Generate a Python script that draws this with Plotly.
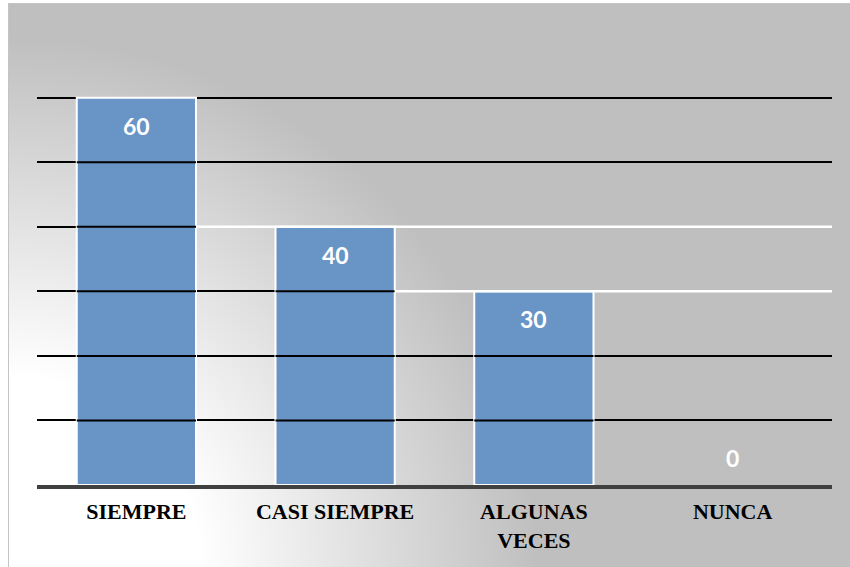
import base64
import plotly.graph_objects as go

# ---- data ----
categories = ["SIEMPRE", "CASI SIEMPRE", "ALGUNAS<br>VECES", "NUNCA"]
values = [60, 40, 30, 0]
grid_values = [10, 20, 30, 40, 50, 60]

# ---- layout geometry ----
W, H = 850, 567
ML, MR, MT, MB = 37, 18, 46, 82
Y_MAX = 68
BAR_W = 0.6
BAR_COLOR = "#6994c6"

pw = W - ML - MR
ph = H - MT - MB

fig = go.Figure()
fig.add_trace(go.Bar(
    x=list(range(len(categories))), y=values, width=BAR_W,
    marker=dict(color=BAR_COLOR,
                line=dict(color="white", width=[2 if v > 0 else 0 for v in values])),
    hoverinfo="skip", showlegend=False,
))

# value labels
for i, v in enumerate(values):
    fig.add_annotation(
        x=i, y=v, text=str(v), showarrow=False, xref="x", yref="y",
        yanchor="middle", yshift=(-28 if v > 0 else 27),
        font=dict(family="Lato", size=23, color="white", weight="bold"),
    )

shapes = []
# black gridline segments drawn over bars taller than the gridline
for g in grid_values:
    for i, v in enumerate(values):
        if v > g:
            shapes.append(dict(type="line", xref="x", yref="y", layer="above",
                               x0=i - BAR_W / 2, x1=i + BAR_W / 2, y0=g, y1=g,
                               line=dict(color="black", width=2)))
# white gridline segments (rendering artefact of the original)
for i, v in enumerate(values):
    if i > 0 and v in grid_values:
        shapes.append(dict(type="line", xref="x", yref="y", layer="above",
                           x0=i - 1 + BAR_W / 2, x1=len(values) - 0.5, y0=v, y1=v,
                           line=dict(color="white", width=2.5)))

# background gradient as an SVG image covering the chart frame
BX0, BY0 = 8, 3
bw, bh = W - BX0, H - BY0
svg = f'''<svg xmlns="http://www.w3.org/2000/svg" width="{bw}" height="{bh}" viewBox="0 0 {bw} {bh}" preserveAspectRatio="none">
<defs><radialGradient id="g" gradientUnits="userSpaceOnUse" cx="0" cy="{bh}" r="530">
<stop offset="0.36" stop-color="#ffffff"/><stop offset="1" stop-color="#bfbfbf"/></radialGradient></defs>
<rect x="0.5" y="0.5" width="{bw}" height="{bh}" fill="url(#g)" stroke="#c4c4c4" stroke-width="1"/>
</svg>'''
src = "data:image/svg+xml;base64," + base64.b64encode(svg.encode()).decode()

fig.add_layout_image(dict(
    source=src, xref="paper", yref="paper",
    x=(BX0 - ML) / pw, y=1 + (MT - BY0) / ph,
    sizex=bw / pw, sizey=bh / ph,
    xanchor="left", yanchor="top", sizing="stretch", layer="below",
))

fig.update_layout(
    width=W, height=H,
    margin=dict(l=ML, r=MR, t=MT, b=MB, pad=0),
    paper_bgcolor="white", plot_bgcolor="rgba(0,0,0,0)",
    shapes=shapes, bargap=0.4,
)
fig.update_xaxes(
    tickmode="array", tickvals=list(range(len(categories))), ticktext=categories,
    range=[-0.5, len(categories) - 0.5],
    showline=True, linecolor="#404040", linewidth=4, ticks="",
    showgrid=False, zeroline=False, ticklabelstandoff=4,
    tickfont=dict(family="Liberation Serif", size=22, color="black", weight="bold"),
)
fig.update_yaxes(
    range=[0, Y_MAX], tickmode="array", tickvals=grid_values,
    showgrid=True, gridcolor="black", gridwidth=2,
    showticklabels=False, zeroline=False, showline=False, ticks="",
)

fig.write_html("out.html", config={"displayModeBar": False},
               post_script="document.body.style.margin='0';document.body.style.overflow='hidden';")
